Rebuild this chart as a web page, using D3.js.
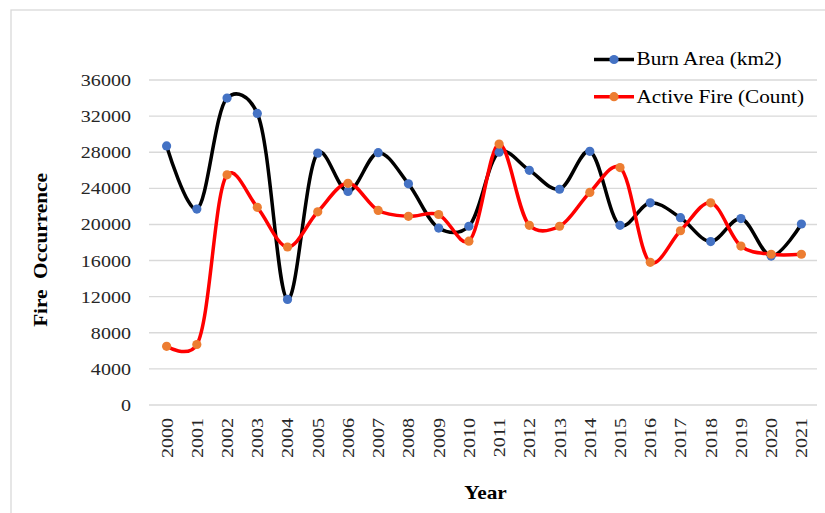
<!DOCTYPE html>
<html>
<head>
<meta charset="utf-8">
<script src="https://cdn.jsdelivr.net/npm/d3@7"></script>
<style>
  html, body { margin: 0; padding: 0; background: #fff; }
  svg { display: block; }
  text { font-family: "Liberation Serif", "Times New Roman", serif; }
</style>
</head>
<body>
<svg id="chart" width="825" height="513"></svg>
<script>
const years = ["2000","2001","2002","2003","2004","2005","2006","2007","2008","2009","2010",
               "2011","2012","2013","2014","2015","2016","2017","2018","2019","2020","2021"];
const burnArea = [28700, 21700, 34000, 32300, 11700, 27900, 23650, 27950, 24500, 19600, 19800,
                  28000, 26000, 23900, 28100, 19900, 22400, 20750, 18100, 20650, 16500, 20050];
const activeFire = [6500, 6700, 25500, 21900, 17500, 21400, 24550, 21550, 20900, 21100, 18150,
                    28900, 19900, 19800, 23550, 26300, 15800, 19300, 22400, 17600, 16700, 16700];
const yTicks = [0, 4000, 8000, 12000, 16000, 20000, 24000, 28000, 32000, 36000];
const seriesNames = ["Burn Area (km2)", "Active Fire (Count)"];

const svg = d3.select("#chart");
const STRETCH = 1.18;
function stretch(sel, k) {
  sel.each(function() {
    const w = this.getComputedTextLength();
    d3.select(this).attr("textLength", w * (k || STRETCH)).attr("lengthAdjust", "spacingAndGlyphs");
  });
}

// chart border
svg.append("rect").attr("x", 11).attr("y", 10).attr("width", 830).attr("height", 520)
  .attr("fill", "none").attr("stroke", "#d9d9d9").attr("stroke-width", 1.3);

const x = d3.scaleBand().domain(years).range([151.5, 816.5]).padding(0);
const y = d3.scaleLinear().domain([0, 36000]).range([405, 80]);
const cx = d => x(d) + x.bandwidth() / 2;

// gridlines
svg.append("g").selectAll("line").data(yTicks).join("line")
  .attr("x1", 149).attr("x2", 817)
  .attr("y1", d => y(d)).attr("y2", d => y(d))
  .attr("stroke", "#d9d9d9").attr("stroke-width", 1.4);

// y tick labels
const yl = svg.append("g").selectAll("text").data(yTicks).join("text")
  .attr("x", 131).attr("y", d => y(d)).attr("dy", "0.35em")
  .attr("text-anchor", "end").attr("font-size", 17).attr("fill", "#262626")
  .text(d => d);
stretch(yl);

// x tick labels
const xl = svg.append("g").selectAll("text").data(years).join("text")
  .attr("transform", d => `translate(${cx(d)},418) rotate(-90)`)
  .attr("dy", "0.35em").attr("text-anchor", "end")
  .attr("font-size", 17).attr("fill", "#262626")
  .text(d => d);
stretch(xl);

// axis titles
const yt = svg.append("text").attr("transform", "translate(41,250) rotate(-90)")
  .attr("text-anchor", "middle").attr("dy", "0.35em")
  .attr("font-size", 18).attr("font-weight", "bold").attr("fill", "#000")
  .attr("xml:space", "preserve").style("white-space", "pre")
  .text("Fire  Occurrence");
stretch(yt);
const xt = svg.append("text").attr("x", 485.5).attr("y", 499)
  .attr("text-anchor", "middle").attr("font-size", 19).attr("font-weight", "bold").attr("fill", "#000")
  .text("Year");
stretch(xt, 1.12);

// lines
const line = d3.line().x((d, i) => cx(years[i])).y(d => y(d)).curve(d3.curveCatmullRom.alpha(0.25));
const series = [
  { name: seriesNames[0], values: burnArea, line: "#000000", marker: "#4472C4" },
  { name: seriesNames[1], values: activeFire, line: "#FF0000", marker: "#ED7D31" }
];
series.forEach(s => {
  svg.append("path").attr("d", line(s.values)).attr("fill", "none")
    .attr("stroke", s.line).attr("stroke-width", 3.5).attr("stroke-linejoin", "round");
});
series.forEach(s => {
  svg.append("g").selectAll("circle").data(s.values).join("circle")
    .attr("cx", (d, i) => cx(years[i])).attr("cy", d => y(d)).attr("r", 4.6)
    .attr("fill", s.marker);
});

// legend
const lg = svg.append("g");
series.forEach((s, i) => {
  const ly = 59.5 + i * 37.2;
  lg.append("line").attr("x1", 594).attr("x2", 634).attr("y1", ly).attr("y2", ly)
    .attr("stroke", s.line).attr("stroke-width", 3.5);
  lg.append("circle").attr("cx", 614).attr("cy", ly).attr("r", 4.6).attr("fill", s.marker);
  const t = lg.append("text").attr("x", 636.5).attr("y", ly).attr("dy", "0.33em")
    .attr("font-size", 18).attr("fill", "#000").text(s.name);
  stretch(t);
});
</script>
</body>
</html>
